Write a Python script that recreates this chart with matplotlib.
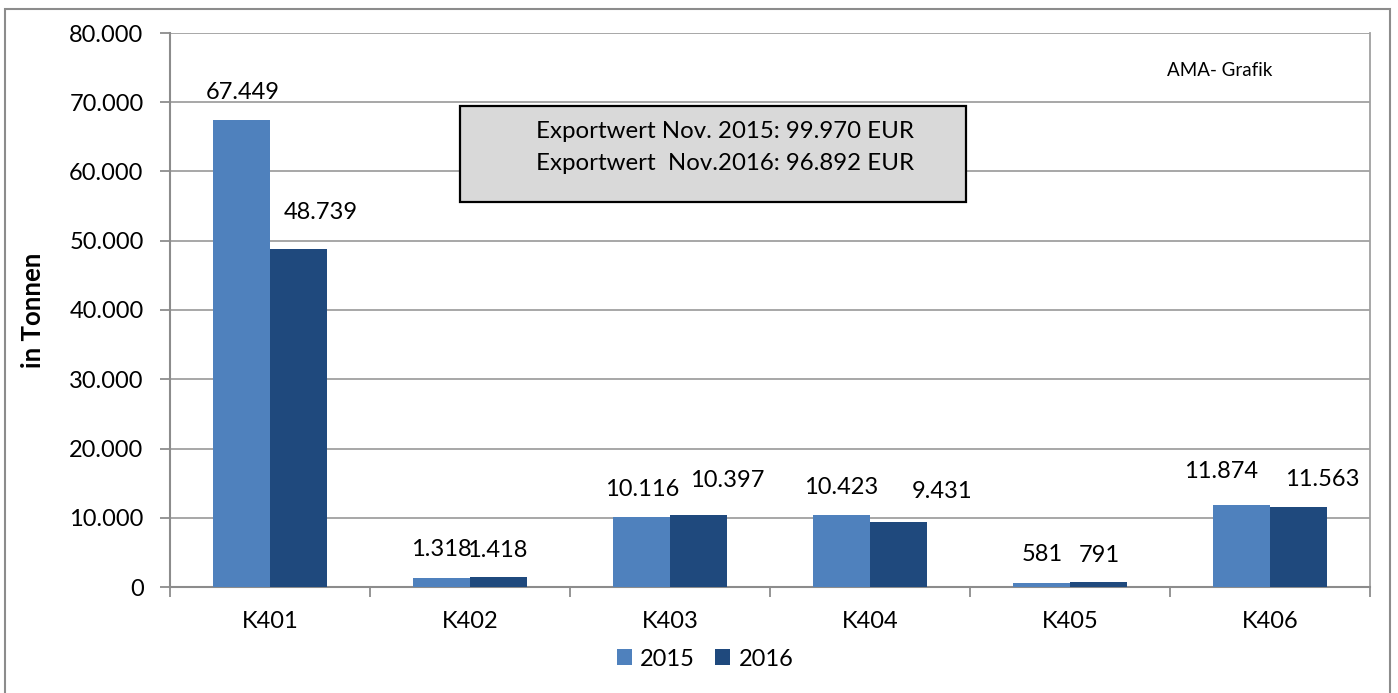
import matplotlib.pyplot as plt
import numpy as np
from matplotlib.patches import Rectangle

# Daten (in Tonnen)
kategorien = ['K401', 'K402', 'K403', 'K404', 'K405', 'K406']
werte_2015 = [67449, 1318, 10116, 10423, 581, 11874]
werte_2016 = [48739, 1418, 10397, 9431, 791, 11563]
labels_2015 = ['67.449', '1.318', '10.116', '10.423', '581', '11.874']
labels_2016 = ['48.739', '1.418', '10.397', '9.431', '791', '11.563']
y_ticks = [0, 10000, 20000, 30000, 40000, 50000, 60000, 70000, 80000]
y_ticklabels = ['0', '10.000', '20.000', '30.000', '40.000', '50.000', '60.000', '70.000', '80.000']

# Lage der Datenbeschriftungen (Pixel relativ zur Balkenoberkante), wie im Original verschoben
off_2015 = [(1, 27), (0, 28), (1, 27), (0, 27), (1, 28), (-20, 33)]
off_2016 = [(22, 37), (-1, 27), (29, 35), (44, 30), (1, 26), (24, 27)]

plt.rcParams['font.family'] = ['Lato', 'DejaVu Sans']
fs = 17

W, H = 1398, 693
fig = plt.figure(figsize=(W / 100, H / 100), dpi=100)

# Rahmen um die ganze Grafik
fig.patches.append(Rectangle((5 / W, -0.01), (1390 - 5) / W, 1.01 - 9 / H,
                             transform=fig.transFigure, fill=False,
                             edgecolor='#8c8c8c', lw=1.5))

ax = fig.add_axes([170 / W, 1 - 587 / H, 1200 / W, 554 / H])

x = np.arange(len(kategorien))
bw = 0.285
c15 = '#4f81bd'
c16 = '#1f497d'
ax.bar(x - bw / 2, werte_2015, bw, color=c15, label='2015', zorder=3)
ax.bar(x + bw / 2, werte_2016, bw, color=c16, label='2016', zorder=3)

px = 0.72  # Pixel -> Punkt
for i in range(len(x)):
    ax.annotate(labels_2015[i], (x[i] - bw / 2, werte_2015[i]),
                xytext=(off_2015[i][0] * px, off_2015[i][1] * px),
                textcoords='offset points', ha='center', va='center', fontsize=fs)
    ax.annotate(labels_2016[i], (x[i] + bw / 2, werte_2016[i]),
                xytext=(off_2016[i][0] * px, off_2016[i][1] * px),
                textcoords='offset points', ha='center', va='center', fontsize=fs)

ax.set_xlim(-0.5, len(x) - 0.5)
ax.set_ylim(0, 80000)
ax.set_yticks(y_ticks)
ax.set_yticklabels(y_ticklabels, fontsize=fs)
ax.set_xticks(x)
ax.set_xticklabels(kategorien, fontsize=fs)
ax.set_xticks(np.arange(-0.5, len(x), 1), minor=True)
ax.tick_params(axis='x', which='major', length=0, pad=17)
ax.tick_params(axis='x', which='minor', length=7, width=1.3, color='#8c8c8c')
ax.tick_params(axis='y', length=7, width=1.3, color='#8c8c8c', pad=12)

ax.yaxis.grid(True, color='#a0a0a0', lw=1.3, zorder=0)
for s in ['left', 'bottom']:
    ax.spines[s].set_color('#8c8c8c')
    ax.spines[s].set_linewidth(1.5)
ax.spines['right'].set_color('#a0a0a0')
ax.spines['right'].set_linewidth(1.3)
ax.spines['top'].set_visible(False)

ax.set_ylabel('in Tonnen', fontsize=18.5, fontweight='bold')
ax.yaxis.set_label_coords((45 - 170) / 1200, 0.5)

# Infobox
ax.add_patch(Rectangle((0.2417, 0.695), 0.4216, 0.173, transform=ax.transAxes,
                       facecolor='#d9d9d9', edgecolor='black', lw=1.6, zorder=5))
ax.text(0.4625, 0.823, 'Exportwert Nov. 2015: 99.970 EUR', transform=ax.transAxes,
        ha='center', va='center', fontsize=17.3, zorder=6)
ax.text(0.4625, 0.765, 'Exportwert  Nov.2016: 96.892 EUR', transform=ax.transAxes,
        ha='center', va='center', fontsize=17.3, zorder=6)

ax.text(0.875, 0.933, 'AMA- Grafik', transform=ax.transAxes, ha='center',
        va='center', fontsize=13.5)

ax.legend(loc='center', bbox_to_anchor=((705 - 170) / 1200, -0.13), ncol=2, frameon=False,
          fontsize=fs, handlelength=0.65, handleheight=0.65, handletextpad=0.34,
          columnspacing=0.85)

fig.savefig('out.png', dpi=100)
